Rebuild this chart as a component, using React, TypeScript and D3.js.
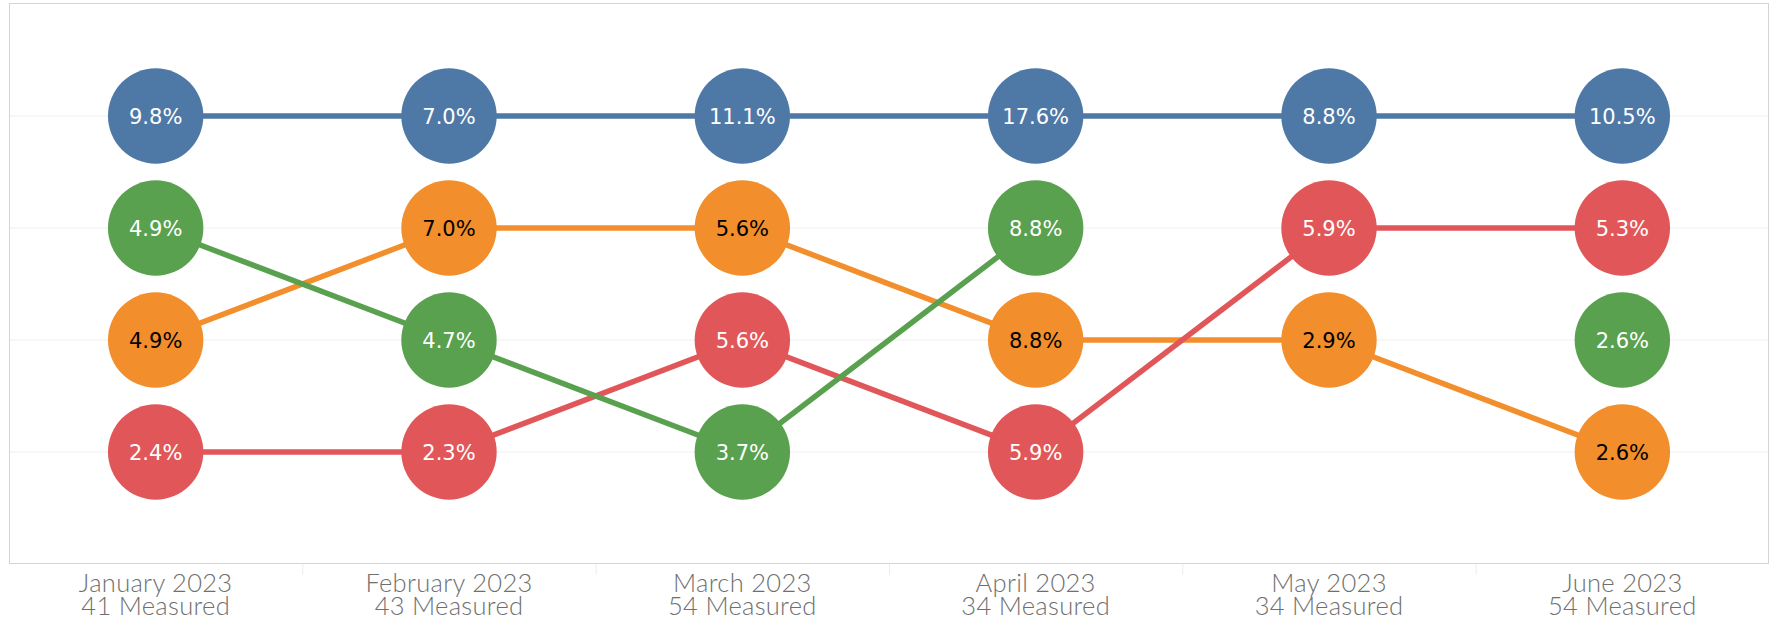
import React from "react";
import * as d3 from "d3";

const months = ["January 2023", "February 2023", "March 2023", "April 2023", "May 2023", "June 2023"];
const measured = [41, 43, 54, 34, 34, 54];

const seriesNames = ["blue", "orange", "red", "green"];
const colors = ["#4e79a7", "#f28e2b", "#e15759", "#59a14f"];
const textColors = ["#ffffff", "#000000", "#ffffff", "#ffffff"];

// value (%) and rank per month; null = no data
const blueValues = [9.8, 7.0, 11.1, 17.6, 8.8, 10.5];
const blueRanks = [1, 1, 1, 1, 1, 1];
const orangeValues = [4.9, 7.0, 5.6, 8.8, 2.9, 2.6];
const orangeRanks = [3, 2, 2, 3, 3, 4];
const redValues = [2.4, 2.3, 5.6, 5.9, 5.9, 5.3];
const redRanks = [4, 4, 3, 4, 2, 2];
const greenValues: (number | null)[] = [4.9, 4.7, 3.7, 8.8, null, 2.6];
const greenRanks: (number | null)[] = [2, 3, 4, 2, null, 3];

const rankTicks = [1, 2, 3, 4];

const W = 1773;
const H = 622;
const pane = { left: 9, top: 3, right: 1769, bottom: 563 };

export default function App() {
  const x = d3.scaleBand<string>().domain(months).range([pane.left, pane.right]).padding(0);
  const cx = (m: string) => (x(m) as number) + x.bandwidth() / 2;
  const y = d3.scaleLinear().domain([0, 5]).range([pane.top + 1, pane.bottom + 1]);

  const all = [
    { vals: blueValues, ranks: blueRanks },
    { vals: orangeValues, ranks: orangeRanks },
    { vals: redValues, ranks: redRanks },
    { vals: greenValues, ranks: greenRanks },
  ];

  const line = d3
    .line<{ m: string; r: number | null }>()
    .defined((d) => d.r != null)
    .x((d) => cx(d.m))
    .y((d) => y(d.r as number));

  const r = 47.7;

  return (
    <svg width={W} height={H} style={{ position: "absolute", left: 0, top: 0, display: "block" }}>
      <rect x={0} y={0} width={W} height={H} fill="#ffffff" />
      {rankTicks.map((t) => (
        <line key={t} x1={pane.left} x2={pane.right} y1={y(t)} y2={y(t)} stroke="#efefef" strokeWidth={1} />
      ))}
      <rect
        x={pane.left + 0.5}
        y={pane.top + 0.5}
        width={pane.right - pane.left - 1}
        height={pane.bottom - pane.top}
        fill="none"
        stroke="#d4d4d4"
        strokeWidth={1}
      />
      {months.slice(1).map((m) => (
        <line
          key={m}
          x1={(x(m) as number) + 0.5}
          x2={(x(m) as number) + 0.5}
          y1={pane.bottom + 1}
          y2={pane.bottom + 12}
          stroke="#ececec"
          strokeWidth={1}
        />
      ))}
      {all.map((s, i) => (
        <path
          key={seriesNames[i]}
          d={line(months.map((m, j) => ({ m, r: s.ranks[j] }))) || ""}
          fill="none"
          stroke={colors[i]}
          strokeWidth={5.5}
        />
      ))}
      {all.map((s, i) =>
        months.map((m, j) =>
          s.ranks[j] == null ? null : (
            <g key={seriesNames[i] + m}>
              <circle cx={cx(m)} cy={y(s.ranks[j] as number)} r={r} fill={colors[i]} />
              <text
                x={cx(m)}
                y={y(s.ranks[j] as number)}
                dy="0.36em"
                textAnchor="middle"
                fontFamily="DejaVu Sans, Verdana, sans-serif"
                fontSize={21}
                fill={textColors[i]}
              >
                {(s.vals[j] as number).toFixed(1) + "%"}
              </text>
            </g>
          )
        )
      )}
      {months.map((m, j) => (
        <g key={m} fontFamily="Lato, 'Open Sans', sans-serif" fontWeight={300} fontSize={25.5} fill="#6f6f6f">
          <text x={cx(m)} y={592} textAnchor="middle" letterSpacing={0.3}>{m}</text>
          <text x={cx(m)} y={615} textAnchor="middle" letterSpacing={0.3}>{measured[j] + " Measured"}</text>
        </g>
      ))}
    </svg>
  );
}
